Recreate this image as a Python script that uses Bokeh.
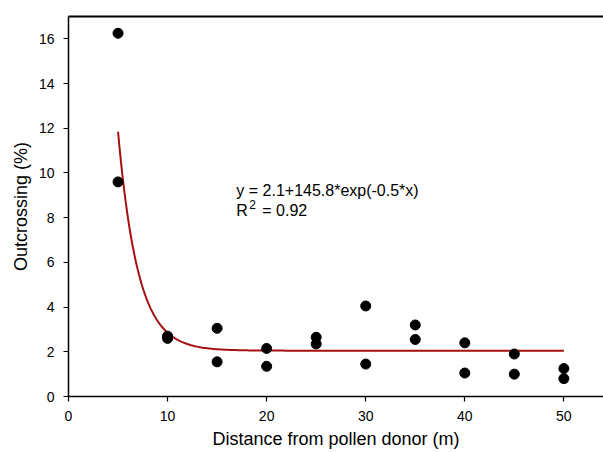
import numpy as np
from bokeh.plotting import figure
from bokeh.models import Label, LinearAxis, Range1d, FixedTicker
from bokeh.embed import file_html
from bokeh.resources import INLINE

# Observed data
distance = [5, 5, 10, 10, 15, 15, 20, 20, 25, 25, 30, 30, 35, 35, 40, 40, 45, 45, 50, 50]
outcrossing = [16.25, 9.6, 2.7, 2.6, 3.05, 1.55, 2.15, 1.35, 2.65, 2.35,
               4.05, 1.45, 3.2, 2.55, 2.4, 1.05, 1.9, 1.0, 1.25, 0.8]

# Fitted exponential decay curve parameters (as drawn)
fit_c = 2.05
fit_a = 119.3
fit_b = 0.5
fit_x_start = 5
fit_x_end = 50

x_ticks = [0, 10, 20, 30, 40, 50]
y_ticks = [0, 2, 4, 6, 8, 10, 12, 14, 16]

equation_text = "y = 2.1+145.8*exp(-0.5*x)"
r2_text = "= 0.92"

FONT = "Liberation Sans"

p = figure(width=603, height=452, output_backend="svg", toolbar_location=None,
           x_range=Range1d(0, 54.0), y_range=Range1d(0, 17.0),
           min_border_left=68, min_border_top=16, min_border_bottom=56,
           min_border_right=0, background_fill_color="white",
           border_fill_color="white")
p.outline_line_color = None
p.grid.visible = False

for ax in (p.xaxis[0], p.yaxis[0]):
    ax.axis_line_color = "black"
    ax.axis_line_width = 1.5
    ax.major_tick_line_color = "black"
    ax.major_tick_line_width = 1.2
    ax.major_tick_out = 5
    ax.major_tick_in = 0
    ax.minor_tick_line_color = None
    ax.major_label_text_font = FONT
    ax.major_label_text_font_size = "14px"
    ax.major_label_text_color = "black"
    ax.axis_label_text_font = FONT
    ax.axis_label_text_font_size = "18px"
    ax.axis_label_text_font_style = "normal"
    ax.axis_label_text_color = "black"

p.xaxis[0].ticker = FixedTicker(ticks=x_ticks)
p.yaxis[0].ticker = FixedTicker(ticks=y_ticks)
p.xaxis[0].axis_label = "Distance from pollen donor (m)"
p.yaxis[0].axis_label = "Outcrossing (%)"
p.xaxis[0].major_label_standoff = 9
p.xaxis[0].axis_label_standoff = 5
p.yaxis[0].major_label_standoff = 9
p.yaxis[0].axis_label_standoff = 5

top = LinearAxis(ticker=FixedTicker(ticks=[]), major_label_text_font_size="0px",
                 axis_line_color="black", axis_line_width=1.8,
                 major_tick_line_color=None, minor_tick_line_color=None)
p.add_layout(top, "above")

fx = np.linspace(fit_x_start, fit_x_end, 300)
fy = fit_c + fit_a * np.exp(-fit_b * fx)
p.line(fx, fy, line_color="#A50F0F", line_width=2)

p.scatter(distance, outcrossing, size=10, fill_color="black", line_color="black")

base_x = 16.94
p.add_layout(Label(x=base_x, y=9.2, text=equation_text, text_font=FONT,
                   text_font_size="16px", text_color="black",
                   text_baseline="alphabetic"))
p.add_layout(Label(x=base_x, y=8.3, text="R", text_font=FONT,
                   text_font_size="16px", text_color="black",
                   text_baseline="alphabetic"))
p.add_layout(Label(x=base_x, y=8.6, x_offset=13, text="2", text_font=FONT,
                   text_font_size="12px", text_color="black",
                   text_baseline="alphabetic"))
p.add_layout(Label(x=base_x, y=8.3, x_offset=26, text=r2_text, text_font=FONT,
                   text_font_size="16px", text_color="black",
                   text_baseline="alphabetic"))

open("out.html", "w").write(file_html(p, INLINE))
